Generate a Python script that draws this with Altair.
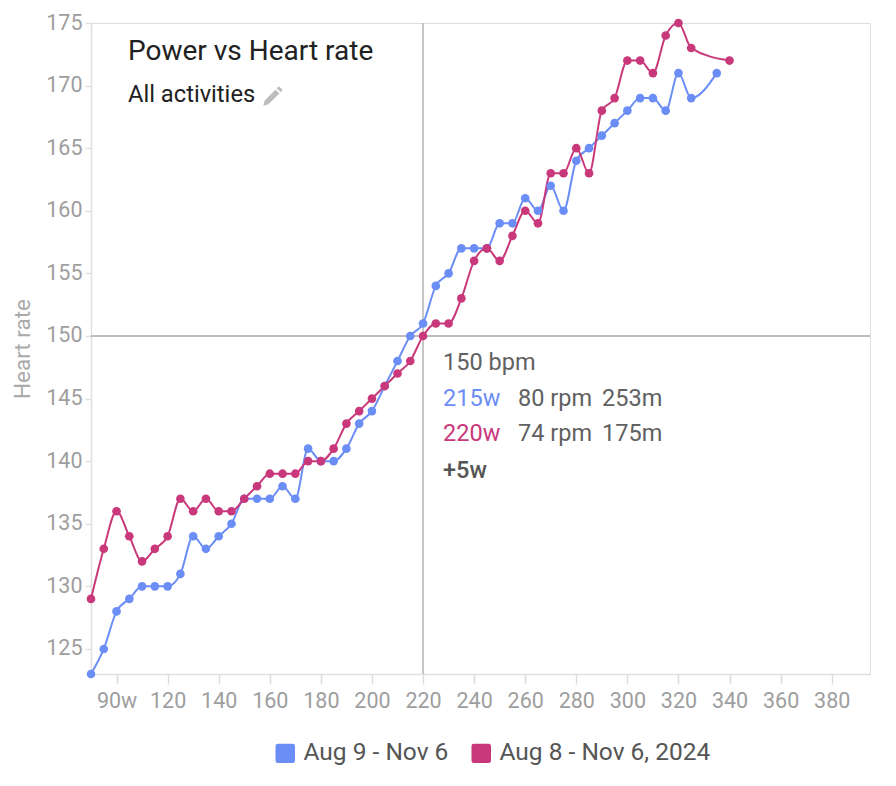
import altair as alt
import pandas as pd

# ---- data ----
series_labels = ["Aug 9 - Nov 6", "Aug 8 - Nov 6, 2024"]
series_colors = ["#6b8df6", "#c8387b"]

power_blue = [90, 95, 100, 105, 110, 115, 120, 125, 130, 135, 140, 145, 150, 155, 160, 165,
              170, 175, 180, 185, 190, 195, 200, 205, 210, 215, 220, 225, 230, 235, 240, 245,
              250, 255, 260, 265, 270, 275, 280, 285, 290, 295, 300, 305, 310, 315, 320, 325, 335]
hr_blue = [123, 125, 128, 129, 130, 130, 130, 131, 134, 133, 134, 135, 137, 137, 137, 138,
           137, 141, 140, 140, 141, 143, 144, 146, 148, 150, 151, 154, 155, 157, 157, 157,
           159, 159, 161, 160, 162, 160, 164, 165, 166, 167, 168, 169, 169, 168, 171, 169, 171]

power_red = [90, 95, 100, 105, 110, 115, 120, 125, 130, 135, 140, 145, 150, 155, 160, 165,
             170, 175, 180, 185, 190, 195, 200, 205, 210, 215, 220, 225, 230, 235, 240, 245,
             250, 255, 260, 265, 270, 275, 280, 285, 290, 295, 300, 305, 310, 315, 320, 325, 340]
hr_red = [129, 133, 136, 134, 132, 133, 134, 137, 136, 137, 136, 136, 137, 138, 139, 139,
          139, 140, 140, 141, 143, 144, 145, 146, 147, 148, 150, 151, 151, 153, 156, 157,
          156, 158, 160, 159, 163, 163, 165, 163, 168, 169, 172, 172, 171, 174, 175, 173, 172]

x_ticks = [100, 120, 140, 160, 180, 200, 220, 240, 260, 280, 300, 320, 340, 360, 380]
y_ticks = [125, 130, 135, 140, 145, 150, 155, 160, 165, 170, 175]

cross_power = 220
cross_hr = 150
tip_power = [215, 220]
tip_cadence = [80, 74]
tip_duration = ["253m", "175m"]
tip_diff = "+5w"

title_text = "Power vs Heart rate"
subtitle_text = "All activities"

df = pd.concat([
    pd.DataFrame({"power": power_blue, "hr": hr_blue, "series": series_labels[0]}),
    pd.DataFrame({"power": power_red, "hr": hr_red, "series": series_labels[1]}),
])

FONT = "Roboto"
rounded_sq = ("M -0.75,-1 L 0.75,-1 Q 1,-1 1,-0.75 L 1,0.75 Q 1,1 0.75,1 L -0.75,1 "
              "Q -1,1 -1,0.75 L -1,-0.75 Q -1,-1 -0.75,-1 Z")
pencil = ("M -1,1 L -0.85,0.4 L 0.4,-0.85 L 0.85,-0.4 L -0.4,0.85 Z "
          "M 0.55,-1 L 0.7,-1.15 Q 0.8,-1.25 0.9,-1.15 L 1.15,-0.9 Q 1.25,-0.8 1.15,-0.7 L 1,-0.55 Z")

x_scale = alt.Scale(domain=[90, 395], nice=False, zero=False)
y_scale = alt.Scale(domain=[123, 175], nice=False, zero=False)

x_enc = alt.X("power:Q", scale=x_scale, axis=alt.Axis(
    values=x_ticks, grid=False, title=None,
    labelExpr="datum.value == 100 ? '90w' : datum.label",
    labelFont=FONT, labelFontSize=21.5, labelColor="#9e9e9e", labelPadding=6,
    tickColor="#dddddd", tickSize=10, tickWidth=1.5,
    domainColor="#e0e0e0", domainWidth=1.5))
y_enc = alt.Y("hr:Q", scale=y_scale, axis=alt.Axis(
    values=y_ticks, title="Heart rate", titleFont=FONT, titleFontSize=22.5,
    titleFontWeight="normal", titleColor="#aaaaaa", titleX=-69, titleBaseline="middle",
    labelFont=FONT, labelFontSize=21.5, labelColor="#9e9e9e", labelPadding=3,
    gridColor="#e4e4e4", gridWidth=1.5,
    tickColor="#e0e0e0", tickSize=6, tickWidth=1.5,
    domainColor="#e0e0e0", domainWidth=1.5))

color_enc = alt.Color("series:N", scale=alt.Scale(domain=series_labels, range=series_colors),
                      legend=alt.Legend(title=None, orient="none", legendX=182, legendY=718,
                                        direction="horizontal", symbolType=rounded_sq,
                                        symbolSize=380, symbolStrokeWidth=0, symbolOpacity=1,
                                        labelFont=FONT, labelFontSize=24.5, labelColor="#555555",
                                        labelOffset=6, columnPadding=20, labelLimit=400))

data_layer = alt.Chart(df).mark_line(
    interpolate="monotone", strokeWidth=2,
    point=alt.OverlayMarkDef(size=75, filled=True, opacity=1)
).encode(x=x_enc, y=y_enc, color=color_enc, order=alt.Order("power:Q"))

vrule = alt.Chart().mark_rule(color="#b4b4b4", strokeWidth=1.5).encode(
    x=alt.X(datum=cross_power, scale=x_scale))
hrule = alt.Chart().mark_rule(color="#a8a8a8", strokeWidth=1.5).encode(
    y=alt.Y(datum=cross_hr, scale=y_scale))

title_box = alt.Chart().mark_rect(color="white").encode(
    x=alt.value(21), x2=alt.value(297), y=alt.value(7), y2=alt.value(102))
tip_box = alt.Chart().mark_rect(color="white").encode(
    x=alt.value(347), x2=alt.value(575), y=alt.value(322), y2=alt.value(467))

title_layer = alt.Chart().mark_text(
    text=title_text, font=FONT, fontSize=28, color="#212121", align="left", baseline="alphabetic"
).encode(x=alt.value(37), y=alt.value(37))
subtitle_layer = alt.Chart().mark_text(
    text=subtitle_text, font=FONT, fontSize=23.7, color="#212121", align="left", baseline="alphabetic"
).encode(x=alt.value(37), y=alt.value(78.5))
pencil_layer = alt.Chart().mark_point(
    shape=pencil, size=300, filled=True, color="#bdbdbd", opacity=1
).encode(x=alt.value(181), y=alt.value(74))


def tip_text(txt, dx, dy, color, weight="normal"):
    return alt.Chart().mark_text(
        text=txt, font=FONT, fontSize=23.5, color=color, fontWeight=weight,
        align="left", baseline="alphabetic", dx=dx, dy=dy
    ).encode(x=alt.X(datum=cross_power, scale=x_scale), y=alt.Y(datum=cross_hr, scale=y_scale))


tips = [
    tip_text(f"{cross_hr} bpm", 20, 34, "#616161"),
    tip_text(f"{tip_power[0]}w", 20, 70, series_colors[0]),
    tip_text(f"{tip_cadence[0]} rpm", 95, 70, "#616161"),
    tip_text(tip_duration[0], 179, 70, "#616161"),
    tip_text(f"{tip_power[1]}w", 20, 105, series_colors[1]),
    tip_text(f"{tip_cadence[1]} rpm", 95, 105, "#616161"),
    tip_text(tip_duration[1], 179, 105, "#616161"),
    tip_text(tip_diff, 20, 142, "#555555", 500),
]

chart = alt.layer(
    vrule, hrule, title_box, tip_box, data_layer, title_layer, subtitle_layer, pencil_layer, *tips
).properties(
    width=779, height=651,
    padding={"left": 83, "top": 15, "right": 10, "bottom": 105},
    autosize=alt.AutoSizeParams(type="none"),
).configure_view(stroke="#e0e0e0", strokeWidth=1.5).configure(background="white")

chart.save("out.html", embed_options={"renderer": "svg", "actions": False})
